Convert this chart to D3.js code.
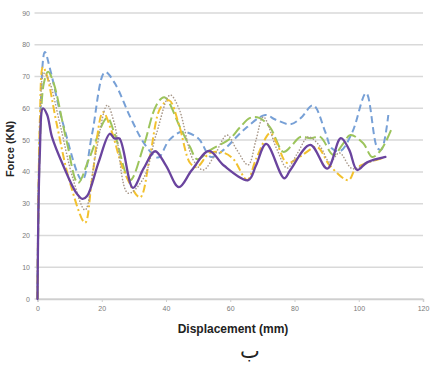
<!DOCTYPE html>
<html>
<head>
<meta charset="utf-8">
<script src="https://cdn.jsdelivr.net/npm/d3@7"></script>
<style>
  body { margin: 0; background: #fff; }
  svg { display: block; font-family: "Liberation Sans", Arial, sans-serif; }
</style>
</head>
<body>
<div id="chart"></div>
<script>
// [displacement (mm), force (kN)]
const blueDashed = [[0,0],[0.8,55],[2.3,77.7],[4,72],[8,55],[13.9,37.4],[17,52],[21,71.4],[24,68],[29,57],[33.5,48.5],[37.5,44.5],[41,50],[45,52.6],[50,50.6],[54,44.7],[58,47],[64,53],[70.9,57.9],[74,56.5],[78.7,55],[82,57],[85.8,61],[89.6,52.5],[91.5,47.5],[94.2,46.5],[98,52.5],[102.3,64.8],[105.8,47.5],[107,47],[109.2,57.9]];
const greenDashed = [[0,0],[0.8,50],[2,68],[3.3,71.5],[5,68],[9,50],[12.6,36.5],[16,44],[21.7,57],[24,52],[28.8,37.4],[33,48],[37,61],[39.5,63.5],[44.4,54],[47.5,47.8],[49.7,44],[54,47],[60,50.5],[63,54],[66.2,57],[69,57],[72.4,54],[76.5,46.3],[78.7,47.8],[81.8,51],[85,50.6],[88,51],[92.1,45.3],[95.2,49],[97.4,51.6],[101.4,49],[104.2,44.7],[107,47],[110.4,54]];
const yellowDashDot = [[0,0],[0.7,55],[1.7,73],[3,70],[6,55],[10,37],[14.8,24],[17,38],[20.4,58.8],[23,53],[27,40],[31.9,32],[35,45],[38.2,60],[41,62.5],[44,55],[47.5,42.8],[49.6,41.5],[53.7,46],[58,46],[61,44],[65.3,37.4],[68,44],[72.4,52.2],[74.5,49],[77.7,42.8],[82,45],[87,47.8],[91,42],[96.8,37.4],[99,41],[103,43],[108,44.5]];
const grayDotted = [[0,0],[0.7,50],[2,71],[3.5,69],[7,55],[11,38],[14.8,28],[18,45],[21.7,61],[24,55],[28.2,33.3],[33,38],[37,52],[41.3,64.2],[44,60],[48.5,43.7],[51.6,40.6],[55,45],[59,51.6],[62,47],[65.6,42.2],[68,50],[70.3,57.3],[74.6,46.9],[77.7,41.2],[81,46],[84.3,51],[88,48],[91,43],[94,46],[98,41],[103,43],[108,44.5]];
const purpleSolid = [[0,0],[0.7,45],[1.7,60],[3,58],[4.5,51],[8,42],[12,33.5],[14,31.5],[15.5,32.5],[19,43],[22.5,52],[24,50.5],[25.5,50.5],[29.7,35],[33,41],[36.6,46.5],[40,42],[44,35.2],[48,40.5],[53.4,46.6],[58,42],[65.6,37.4],[68,42],[71.2,48.8],[76.8,38],[78.7,40.6],[84.9,48.5],[90.2,41],[94.4,50.6],[97,47],[99.5,40.6],[102.6,43],[108.3,44.7]];

const xTicks = [0, 20, 40, 60, 80, 100, 120];
const yTicks = [0, 10, 20, 30, 40, 50, 60, 70, 80, 90];

const W = 431, H = 368;
const svg = d3.select("#chart").append("svg").attr("width", W).attr("height", H);

const x = d3.scaleLinear().domain([0, 120]).range([37.5, 423]);
const y = d3.scaleLinear().domain([0, 90]).range([299, 13]);

// gridlines
svg.append("g")
  .selectAll("line")
  .data(yTicks)
  .join("line")
  .attr("x1", x(0) - 3)
  .attr("x2", x(120))
  .attr("y1", d => y(d))
  .attr("y2", d => y(d))
  .attr("stroke", "#d9d9d9")
  .attr("stroke-width", 1.5);

// y tick labels
svg.append("g")
  .selectAll("text")
  .data(yTicks)
  .join("text")
  .attr("x", 30)
  .attr("y", d => y(d) + 2.5)
  .attr("text-anchor", "end")
  .attr("font-size", 7)
  .attr("fill", "#7a7a7a")
  .text(d => d);

// x axis ticks + labels
const xAxis = svg.append("g").attr("transform", `translate(0,${y(0)})`)
  .call(d3.axisBottom(x).tickValues(xTicks).tickSize(3).tickPadding(4));
xAxis.select(".domain").attr("stroke", "#cfcfcf").attr("stroke-width", 1.5);
xAxis.selectAll(".tick line").attr("stroke", "#cfcfcf");
xAxis.selectAll(".tick text").attr("font-size", 7).attr("fill", "#7a7a7a")
  .attr("font-family", "Liberation Sans, Arial, sans-serif");

const line = d3.line()
  .x(d => x(d[0]))
  .y(d => y(d[1]))
  .curve(d3.curveCatmullRom.alpha(0.5));

const series = [
  { data: blueDashed, color: "#77a0d6", width: 2, dash: "7,4", cap: "butt" },
  { data: greenDashed, color: "#9cc45c", width: 2, dash: "11,4", cap: "butt" },
  { data: yellowDashDot, color: "#f2c12e", width: 2, dash: "8,3,2,3", cap: "butt" },
  { data: grayDotted, color: "#a8988a", width: 1.6, dash: "0.1,3", cap: "round" },
  { data: purpleSolid, color: "#6a449e", width: 2.3, dash: null, cap: "round" }
];

svg.append("g")
  .selectAll("path")
  .data(series)
  .join("path")
  .attr("d", d => line(d.data))
  .attr("fill", "none")
  .attr("stroke", d => d.color)
  .attr("stroke-width", d => d.width)
  .attr("stroke-dasharray", d => d.dash)
  .attr("stroke-linecap", d => d.cap)
  .attr("stroke-linejoin", "round");

// axis titles
svg.append("text")
  .attr("x", 233)
  .attr("y", 333)
  .attr("text-anchor", "middle")
  .attr("font-size", 12)
  .attr("font-weight", "bold")
  .attr("fill", "#222")
  .text("Displacement (mm)");

svg.append("text")
  .attr("transform", "translate(14,149) rotate(-90)")
  .attr("text-anchor", "middle")
  .attr("font-size", 11)
  .attr("font-weight", "bold")
  .attr("fill", "#222")
  .text("Force (KN)");

svg.append("text")
  .attr("x", 250)
  .attr("y", 358)
  .attr("text-anchor", "middle")
  .attr("font-size", 21)
  .attr("font-family", "DejaVu Sans, sans-serif")
  .attr("fill", "#222")
  .text("ب");
</script>
</body>
</html>
